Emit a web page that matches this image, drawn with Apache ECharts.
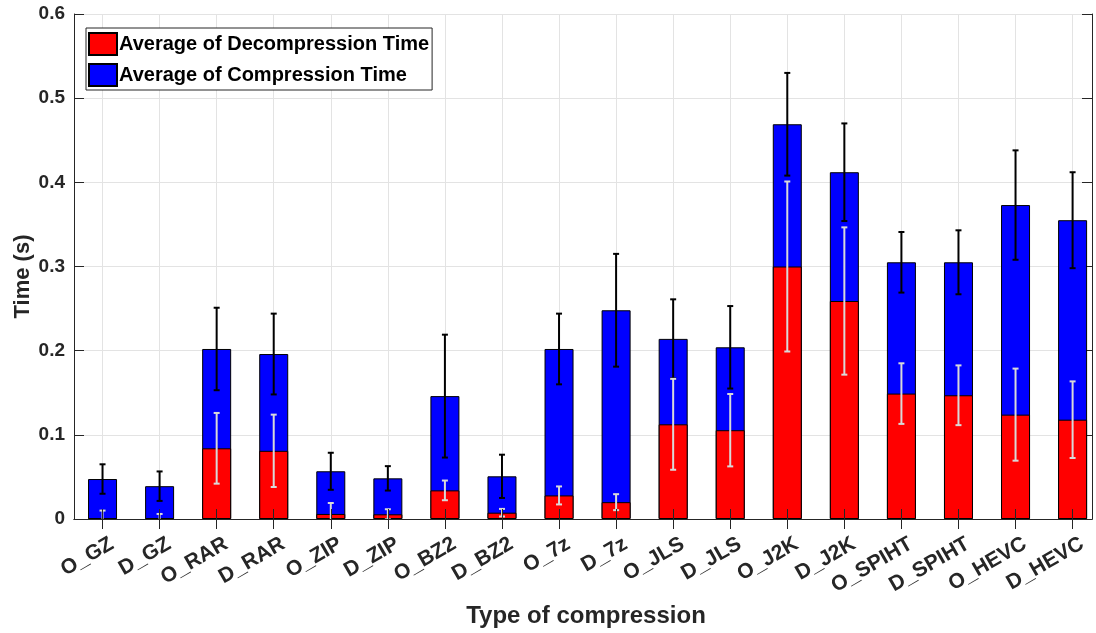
<!DOCTYPE html>
<html>
<head>
<meta charset="utf-8">
<title>compression time</title>
<script src="https://cdn.jsdelivr.net/npm/echarts@6/dist/echarts.min.js"></script>
<style>
  html, body { margin: 0; padding: 0; background: #fff; }
  #chart { width: 1096px; height: 633px; }
</style>
</head>
<body>
<div id="chart"></div>
<script>
  // categories
  var names = ['O_GZ', 'D_GZ', 'O_RAR', 'D_RAR', 'O_ZIP', 'D_ZIP', 'O_BZ2', 'D_BZ2', 'O_7z', 'D_7z',
    'O_JLS', 'D_JLS', 'O_J2K', 'D_J2K', 'O_SPIHT', 'D_SPIHT', 'O_HEVC', 'D_HEVC']
  // average decompression time (red, bottom)
  var decompMean = [0.001, 0.001, 0.084, 0.081, 0.006, 0.0056, 0.034, 0.0075, 0.028, 0.020,
    0.1125, 0.1055, 0.300, 0.259, 0.149, 0.147, 0.124, 0.118]
  // average compression time (blue, stacked on top)
  var compMean = [0.0465, 0.038, 0.118, 0.115, 0.0507, 0.0427, 0.112, 0.0432, 0.174, 0.228,
    0.1015, 0.0985, 0.169, 0.153, 0.156, 0.158, 0.249, 0.237]
  // error of the total (black bars)
  var totalErr = [0.0175, 0.0175, 0.049, 0.048, 0.022, 0.0145, 0.073, 0.0257, 0.042, 0.067,
    0.047, 0.049, 0.061, 0.058, 0.036, 0.038, 0.065, 0.057]
  // error of decompression (white bars)
  var decompErr = [0.009, 0.005, 0.042, 0.043, 0.013, 0.006, 0.0117, 0.0045, 0.0107, 0.0095,
    0.054, 0.043, 0.101, 0.0875, 0.036, 0.0355, 0.0547, 0.0455]
  var yTicks = [0, 0.1, 0.2, 0.3, 0.4, 0.5, 0.6]

  var xPos = names.map(function (n, i) { return i + 1 })
  var fontFamily = '"Liberation Sans", Arial, Helvetica, sans-serif'
  var axisColor = '#262626'

  var totalData = xPos.map(function (x, i) { return [x, decompMean[i] + compMean[i]] })
  var decompData = xPos.map(function (x, i) { return [x, decompMean[i]] })
  var totalErrData = xPos.map(function (x, i) { return [x, decompMean[i] + compMean[i], totalErr[i]] })
  var decompErrData = xPos.map(function (x, i) { return [x, decompMean[i], decompErr[i]] })

  function errorBar(color) {
    return function (params, api) {
      var x = api.value(0), m = api.value(1), e = api.value(2)
      var hi = api.coord([x, m + e])
      var lo = api.coord([x, m - e])
      var cap = 3
      var style = { stroke: color, lineWidth: 2 }
      return {
        type: 'group',
        children: [
          { type: 'line', shape: { x1: hi[0], y1: hi[1], x2: lo[0], y2: lo[1] }, style: style },
          { type: 'line', shape: { x1: hi[0] - cap, y1: hi[1], x2: hi[0] + cap, y2: hi[1] }, style: style },
          { type: 'line', shape: { x1: lo[0] - cap, y1: lo[1], x2: lo[0] + cap, y2: lo[1] }, style: style }
        ]
      }
    }
  }

  var xMin = 0.5, xMax = 18.34

  var option = {
    animation: false,
    backgroundColor: '#fff',
    textStyle: { fontFamily: fontFamily },
    grid: { left: 74, right: 4, top: 14, bottom: 114, containLabel: false, outerBoundsMode: 'none' },
    legend: {
      data: ['Average of Decompression Time', 'Average of Compression Time'],
      orient: 'vertical',
      left: 86,
      top: 28,
      padding: [4, 3, 3, 2],
      itemGap: 7,
      itemWidth: 28,
      itemHeight: 22,
      icon: 'rect',
      borderColor: axisColor,
      borderWidth: 1,
      backgroundColor: '#fff',
      textStyle: { color: '#000', fontSize: 20, fontWeight: 'bold', fontFamily: fontFamily, padding: [0, 0, 0, -3] }
    },
    xAxis: [
      {
        type: 'value',
        position: 'bottom',
        min: xMin,
        max: xMax,
        z: 10,
        name: 'Type of compression',
        nameLocation: 'middle',
        nameGap: 85,
        nameMoveOverlap: false,
        nameTextStyle: { color: axisColor, fontSize: 24, fontWeight: 'bold', fontFamily: fontFamily, padding: [0, 0, 0, 6] },
        axisLine: { show: true, lineStyle: { color: axisColor, width: 1 } },
        axisTick: { show: true, inside: true, length: 10, customValues: xPos, lineStyle: { color: axisColor } },
        axisLabel: {
          customValues: xPos,
          rotate: 30,
          margin: 29,
          padding: [0, -11, 0, 0],
          color: axisColor,
          fontSize: 21,
          fontWeight: 'bold',
          fontFamily: fontFamily,
          formatter: function (v) { return names[Math.round(v) - 1] || '' }
        },
        splitLine: { show: false }
      },
      {
        type: 'value',
        position: 'top',
        min: xMin,
        max: xMax,
        axisLine: { show: true, lineStyle: { color: axisColor, width: 1 } },
        axisTick: { show: true, inside: true, length: 10, customValues: xPos, lineStyle: { color: axisColor } },
        axisLabel: { show: false },
        splitLine: { show: true, lineStyle: { color: '#e3e3e3', width: 1 } }
      }
    ],
    yAxis: [
      {
        type: 'value',
        position: 'left',
        min: 0,
        max: 0.6,
        interval: 0.1,
        z: 10,
        name: 'Time (s)',
        nameLocation: 'middle',
        nameGap: 40,
        nameMoveOverlap: false,
        nameTextStyle: { color: axisColor, fontSize: 22, fontWeight: 'bold', fontFamily: fontFamily, padding: [0, 20, 0, 0] },
        axisLine: { show: true, lineStyle: { color: axisColor, width: 1 } },
        axisTick: { show: true, inside: true, length: 10, lineStyle: { color: axisColor } },
        axisLabel: {
          color: axisColor,
          fontSize: 19,
          fontWeight: 'bold',
          fontFamily: fontFamily,
          margin: 9,
          customValues: yTicks,
          formatter: function (v) { return String(+v.toFixed(1)) }
        },
        splitLine: { show: false }
      },
      {
        type: 'value',
        position: 'right',
        min: 0,
        max: 0.6,
        interval: 0.1,
        axisLine: { show: true, lineStyle: { color: axisColor, width: 1 } },
        axisTick: { show: true, inside: true, length: 10, lineStyle: { color: axisColor } },
        axisLabel: { show: false },
        splitLine: { show: true, lineStyle: { color: '#e3e3e3', width: 1 } }
      }
    ],
    series: [
      {
        name: 'Average of Compression Time',
        type: 'bar',
        xAxisIndex: 0,
        yAxisIndex: 0,
        barWidth: 29,
        barGap: '-100%',
        itemStyle: { color: '#0000ff', borderColor: '#000', borderWidth: 1 },
        data: totalData,
        z: 2
      },
      {
        name: 'Average of Decompression Time',
        type: 'bar',
        xAxisIndex: 0,
        yAxisIndex: 0,
        barWidth: 29,
        barGap: '-100%',
        itemStyle: { color: '#ff0000', borderColor: '#000', borderWidth: 1 },
        data: decompData,
        z: 2
      },
      {
        type: 'custom',
        xAxisIndex: 0,
        yAxisIndex: 0,
        clip: true,
        z: 3,
        renderItem: errorBar('#000000'),
        data: totalErrData
      },
      {
        type: 'custom',
        xAxisIndex: 0,
        yAxisIndex: 0,
        clip: true,
        z: 3,
        renderItem: errorBar('#d9d9d9'),
        data: decompErrData
      }
    ]
  }

  var myChart = echarts.init(document.getElementById('chart'), null, { renderer: 'canvas' })
  myChart.setOption(option)
</script>
</body>
</html>
